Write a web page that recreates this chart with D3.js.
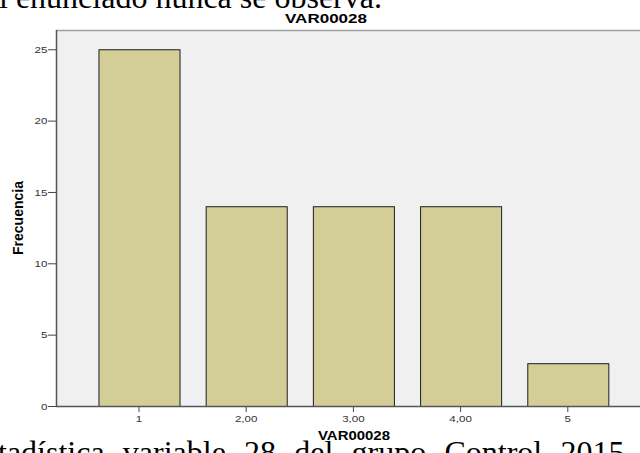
<!DOCTYPE html>
<html>
<head>
<meta charset="utf-8">
<script src="https://cdn.jsdelivr.net/npm/d3@7/dist/d3.min.js"></script>
<style>
  body { margin: 0; background: #fff; }
  svg { display: block; }
</style>
</head>
<body>
<div id="chart"></div>
<script>
// data
var categories = ["1", "2,00", "3,00", "4,00", "5"];
var frequencies = [25, 14, 14, 14, 3];
var yTicks = [0, 5, 10, 15, 20, 25];

var width = 640,
    height = 453;

// plot frame (the chart runs past the right edge of the picture)
var plotLeft = 56, plotRight = 660, plotTop = 30, plotBottom = 406;
var stretch = 1.22; // the labels in the picture are stretched sideways

var svg = d3.select("#chart")
    .append("svg")
    .attr("width", width)
    .attr("height", height);

var x = d3.scaleBand()
    .domain(categories)
    .range([85.4, 621.4])
    .paddingInner(0.244)
    .paddingOuter(0.122);

var y = d3.scaleLinear()
    .domain([0, 26.35])
    .range([plotBottom, plotTop]);

// ******* background of the plot area ******* //
svg.append("rect")
    .attr("x", plotLeft)
    .attr("y", plotTop)
    .attr("width", plotRight - plotLeft)
    .attr("height", plotBottom - plotTop)
    .attr("fill", "#f0f0f0");

svg.append("line")
    .attr("x1", plotLeft).attr("x2", plotRight)
    .attr("y1", plotTop + 0.5).attr("y2", plotTop + 0.5)
    .attr("stroke", "#a0a0a0")
    .attr("stroke-width", 1.5);

// ******* bars ******* //
svg.append("g")
    .attr("class", "bars")
    .selectAll("rect")
    .data(frequencies)
    .enter().append("rect")
    .attr("x", function(d, i) { return x(categories[i]) + 0.5; })
    .attr("y", function(d) { return y(d) + 0.5; })
    .attr("width", x.bandwidth())
    .attr("height", function(d) { return plotBottom - y(d); })
    .attr("fill", "#d3ce97")
    .attr("stroke", "#1e1e1e")
    .attr("stroke-width", 1);

// ******* axes ******* //
var yAxis = svg.append("g")
    .attr("transform", "translate(" + plotLeft + ",0)")
    .call(d3.axisLeft(y).tickValues(yTicks).tickSize(8).tickFormat(d3.format("d")));

var xAxis = svg.append("g")
    .attr("transform", "translate(0," + plotBottom + ")")
    .call(d3.axisBottom(x).tickSize(6));

[yAxis, xAxis].forEach(function(ax) {
    ax.select(".domain").remove();
    ax.selectAll(".tick line").attr("stroke", "#444");
    ax.selectAll(".tick text")
        .attr("fill", "#333")
        .style("font-family", "'Liberation Sans', Arial, sans-serif")
        .style("font-size", "9.5px");
});

yAxis.selectAll(".tick text")
    .attr("x", -8.6 / stretch)
    .attr("transform", "scale(" + stretch + ",1)");
xAxis.selectAll(".tick text")
    .attr("y", 9.5)
    .attr("transform", "scale(" + stretch + ",1)");

// axis lines drawn on top of the bars
svg.append("line")
    .attr("x1", plotLeft + 0.5).attr("x2", plotLeft + 0.5)
    .attr("y1", plotTop).attr("y2", plotBottom + 0.5)
    .attr("stroke", "#555").attr("stroke-width", 1.5);
svg.append("line")
    .attr("x1", plotLeft).attr("x2", plotRight)
    .attr("y1", plotBottom + 0.5).attr("y2", plotBottom + 0.5)
    .attr("stroke", "#555").attr("stroke-width", 1.5);

// ******* titles ******* //
svg.append("text")
    .attr("x", 326)
    .attr("y", 22.5)
    .attr("text-anchor", "middle")
    .attr("textLength", 82)
    .attr("lengthAdjust", "spacingAndGlyphs")
    .style("font-family", "'Liberation Sans', Arial, sans-serif")
    .style("font-weight", "bold")
    .style("font-size", "13px")
    .text("VAR00028");

svg.append("text")
    .attr("x", 354)
    .attr("y", 440)
    .attr("text-anchor", "middle")
    .attr("textLength", 72)
    .attr("lengthAdjust", "spacingAndGlyphs")
    .style("font-family", "'Liberation Sans', Arial, sans-serif")
    .style("font-weight", "bold")
    .style("font-size", "12px")
    .text("VAR00028");

svg.append("text")
    .attr("transform", "translate(23,218) rotate(-90)")
    .attr("text-anchor", "middle")
    .style("font-family", "'Liberation Sans', Arial, sans-serif")
    .style("font-weight", "bold")
    .style("font-size", "14px")
    .text("Frecuencia");

// ******* surrounding document text (cut off by the picture) ******* //
svg.append("text")
    .attr("x", -1)
    .attr("y", 8)
    .style("font-family", "'Liberation Serif', 'Times New Roman', serif")
    .style("font-size", "32px")
    .text("l enunciado nunca se observa.");

svg.append("text")
    .attr("x", -2)
    .attr("y", 463)
    .attr("word-spacing", 10.2)
    .style("font-family", "'Liberation Serif', 'Times New Roman', serif")
    .style("font-size", "32px")
    .text("tadística variable 28 del grupo Control 2015");
</script>
</body>
</html>
